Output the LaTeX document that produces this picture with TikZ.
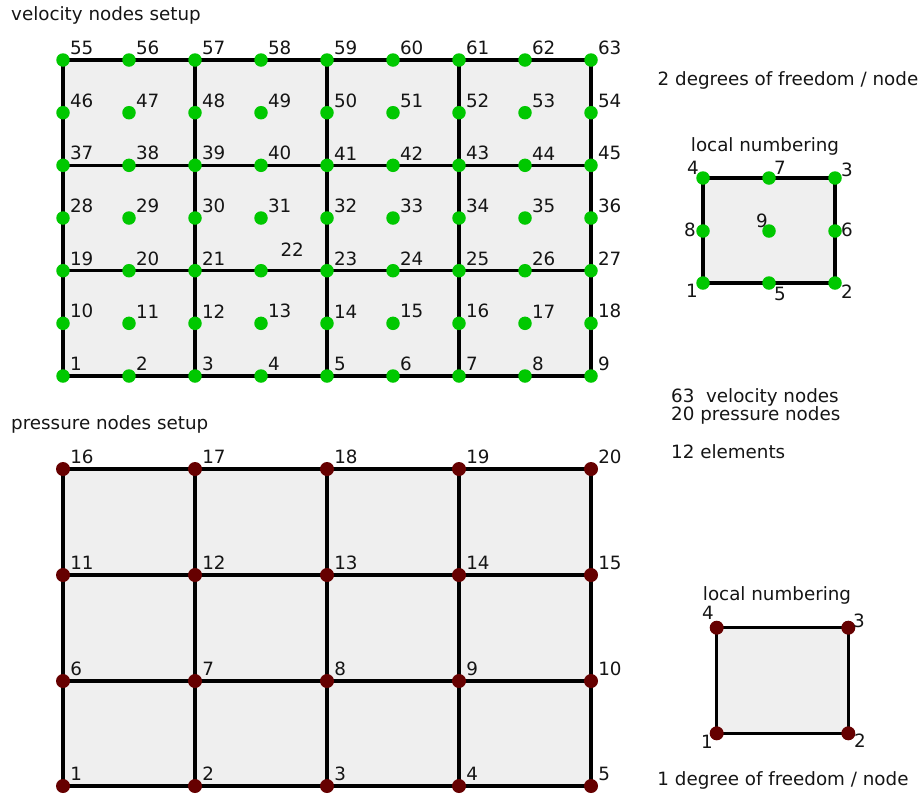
\documentclass[tikz,border=0pt]{standalone}
\usepackage{fontspec}
\setmainfont{DejaVu Sans}
\usepackage{tikz}
\usetikzlibrary{backgrounds}
\definecolor{Ink}{HTML}{151515}
\definecolor{VelDot}{HTML}{00C800}
\definecolor{PresDot}{HTML}{660000}
\definecolor{CellFill}{HTML}{EFEFEF}

\begin{document}
\begin{tikzpicture}[x=1pt,y=-1pt,
  font=\fontsize{18.3}{21}\selectfont,text=Ink,
  vdot/.style={circle,fill=VelDot,minimum size=13.5pt,inner sep=0pt},
  pdot/.style={circle,fill=PresDot,minimum size=14pt,inner sep=0pt},
  num/.style={inner sep=0pt,label distance=2.8pt,yshift=-2pt},
  txt/.style={inner sep=0pt},
  gridline/.style={black,line width=3.3pt}]
\useasboundingbox (0,0) rectangle (921,796);
% velocity nodes
\node[txt,anchor=west] (vtitle) at (11,15) {velocity nodes setup};
\node[vdot,label={[num]45:1}] (v1) at (63,376) {};
\node[vdot,label={[num]45:2}] (v2) at (129,376) {};
\node[vdot,label={[num]45:3}] (v3) at (195,376) {};
\node[vdot,label={[num]45:4}] (v4) at (261,376) {};
\node[vdot,label={[num]45:5}] (v5) at (327,376) {};
\node[vdot,label={[num]45:6}] (v6) at (393,376) {};
\node[vdot,label={[num]45:7}] (v7) at (459,376) {};
\node[vdot,label={[num]45:8}] (v8) at (525,376) {};
\node[vdot,label={[num]45:9}] (v9) at (591,376) {};
\node[vdot,label={[num]45:10}] (v10) at (63,323.3) {};
\node[vdot,label={[num]45:11}] (v11) at (129,323.3) {};
\node[vdot,label={[num]45:12}] (v12) at (195,323.3) {};
\node[vdot,label={[num]45:13}] (v13) at (261,323.3) {};
\node[vdot,label={[num]45:14}] (v14) at (327,323.3) {};
\node[vdot,label={[num]45:15}] (v15) at (393,323.3) {};
\node[vdot,label={[num]45:16}] (v16) at (459,323.3) {};
\node[vdot,label={[num]45:17}] (v17) at (525,323.3) {};
\node[vdot,label={[num]45:18}] (v18) at (591,323.3) {};
\node[vdot,label={[num]45:19}] (v19) at (63,270.7) {};
\node[vdot,label={[num]45:20}] (v20) at (129,270.7) {};
\node[vdot,label={[num]45:21}] (v21) at (195,270.7) {};
\node[vdot,label={[num,xshift=12.5pt,yshift=9.5pt]45:22}] (v22) at (261,270.7) {};
\node[vdot,label={[num]45:23}] (v23) at (327,270.7) {};
\node[vdot,label={[num]45:24}] (v24) at (393,270.7) {};
\node[vdot,label={[num]45:25}] (v25) at (459,270.7) {};
\node[vdot,label={[num]45:26}] (v26) at (525,270.7) {};
\node[vdot,label={[num]45:27}] (v27) at (591,270.7) {};
\node[vdot,label={[num]45:28}] (v28) at (63,218) {};
\node[vdot,label={[num]45:29}] (v29) at (129,218) {};
\node[vdot,label={[num]45:30}] (v30) at (195,218) {};
\node[vdot,label={[num]45:31}] (v31) at (261,218) {};
\node[vdot,label={[num]45:32}] (v32) at (327,218) {};
\node[vdot,label={[num]45:33}] (v33) at (393,218) {};
\node[vdot,label={[num]45:34}] (v34) at (459,218) {};
\node[vdot,label={[num]45:35}] (v35) at (525,218) {};
\node[vdot,label={[num]45:36}] (v36) at (591,218) {};
\node[vdot,label={[num]45:37}] (v37) at (63,165.3) {};
\node[vdot,label={[num]45:38}] (v38) at (129,165.3) {};
\node[vdot,label={[num]45:39}] (v39) at (195,165.3) {};
\node[vdot,label={[num]45:40}] (v40) at (261,165.3) {};
\node[vdot,label={[num]45:41}] (v41) at (327,165.3) {};
\node[vdot,label={[num]45:42}] (v42) at (393,165.3) {};
\node[vdot,label={[num]45:43}] (v43) at (459,165.3) {};
\node[vdot,label={[num]45:44}] (v44) at (525,165.3) {};
\node[vdot,label={[num]45:45}] (v45) at (591,165.3) {};
\node[vdot,label={[num]45:46}] (v46) at (63,112.7) {};
\node[vdot,label={[num]45:47}] (v47) at (129,112.7) {};
\node[vdot,label={[num]45:48}] (v48) at (195,112.7) {};
\node[vdot,label={[num]45:49}] (v49) at (261,112.7) {};
\node[vdot,label={[num]45:50}] (v50) at (327,112.7) {};
\node[vdot,label={[num]45:51}] (v51) at (393,112.7) {};
\node[vdot,label={[num]45:52}] (v52) at (459,112.7) {};
\node[vdot,label={[num]45:53}] (v53) at (525,112.7) {};
\node[vdot,label={[num]45:54}] (v54) at (591,112.7) {};
\node[vdot,label={[num]45:55}] (v55) at (63,60) {};
\node[vdot,label={[num]45:56}] (v56) at (129,60) {};
\node[vdot,label={[num]45:57}] (v57) at (195,60) {};
\node[vdot,label={[num]45:58}] (v58) at (261,60) {};
\node[vdot,label={[num]45:59}] (v59) at (327,60) {};
\node[vdot,label={[num]45:60}] (v60) at (393,60) {};
\node[vdot,label={[num]45:61}] (v61) at (459,60) {};
\node[vdot,label={[num]45:62}] (v62) at (525,60) {};
\node[vdot,label={[num]45:63}] (v63) at (591,60) {};
% pressure nodes
\node[txt,anchor=west] (ptitle) at (11,424) {pressure nodes setup};
\node[pdot,label={[num]45:1}] (p1) at (63,786) {};
\node[pdot,label={[num]45:2}] (p2) at (195,786) {};
\node[pdot,label={[num]45:3}] (p3) at (327,786) {};
\node[pdot,label={[num]45:4}] (p4) at (459,786) {};
\node[pdot,label={[num]45:5}] (p5) at (591,786) {};
\node[pdot,label={[num]45:6}] (p6) at (63,681) {};
\node[pdot,label={[num]45:7}] (p7) at (195,681) {};
\node[pdot,label={[num]45:8}] (p8) at (327,681) {};
\node[pdot,label={[num]45:9}] (p9) at (459,681) {};
\node[pdot,label={[num]45:10}] (p10) at (591,681) {};
\node[pdot,label={[num]45:11}] (p11) at (63,575) {};
\node[pdot,label={[num]45:12}] (p12) at (195,575) {};
\node[pdot,label={[num]45:13}] (p13) at (327,575) {};
\node[pdot,label={[num]45:14}] (p14) at (459,575) {};
\node[pdot,label={[num]45:15}] (p15) at (591,575) {};
\node[pdot,label={[num]45:16}] (p16) at (63,469) {};
\node[pdot,label={[num]45:17}] (p17) at (195,469) {};
\node[pdot,label={[num]45:18}] (p18) at (327,469) {};
\node[pdot,label={[num]45:19}] (p19) at (459,469) {};
\node[pdot,label={[num]45:20}] (p20) at (591,469) {};
% local velocity element
\node[txt] (dofv) at (788,80) {2 degrees of freedom / node};
\node[txt] (locv) at (765,146) {local numbering};
\node[vdot] (lv1) at (703,283) {};
\node[vdot] (lv2) at (835,283) {};
\node[vdot] (lv3) at (835,178) {};
\node[vdot] (lv4) at (703,178) {};
\node[vdot] (lv5) at (769,283) {};
\node[vdot] (lv6) at (835,231) {};
\node[vdot] (lv7) at (769,178) {};
\node[vdot] (lv8) at (703,231) {};
\node[vdot] (lv9) at (769,231) {};
\node[txt] (nv1) at (692,291) {1};
\node[txt] (nv2) at (847,292) {2};
\node[txt] (nv3) at (847,170) {3};
\node[txt] (nv4) at (693,168) {4};
\node[txt] (nv5) at (780,294) {5};
\node[txt] (nv6) at (847,230) {6};
\node[txt] (nv7) at (780,168) {7};
\node[txt] (nv8) at (690,230) {8};
\node[txt] (nv9) at (762,221) {9};
% counts
\node[txt,anchor=west] (cntv) at (671,397) {63\ \ velocity nodes};
\node[txt,anchor=west] (cntp) at (671,415) {20 pressure nodes};
\node[txt,anchor=west] (cnte) at (671,452) {12 elements};
% local pressure element
\node[txt] (locp) at (777,595) {local numbering};
\node[pdot] (lp1) at (716.7,733.3) {};
\node[pdot] (lp2) at (848.3,733.3) {};
\node[pdot] (lp3) at (848.3,627.7) {};
\node[pdot] (lp4) at (716.7,627.7) {};
\node[txt] (np1) at (707,742) {1};
\node[txt] (np2) at (860,741) {2};
\node[txt] (np3) at (859,621) {3};
\node[txt] (np4) at (708,613) {4};
\node[txt] (dofp) at (783,780) {1 degree of freedom / node};
\begin{scope}[on background layer]
\fill[CellFill] (v1.center) rectangle (v63.center);
\fill[CellFill] (p1.center) rectangle (p20.center);
\fill[CellFill] (lv1.center) rectangle (lv3.center);
\fill[CellFill] (lp1.center) rectangle (lp3.center);
\draw[gridline] (v1.center) -- (v9.center);
\draw[gridline] (v19.center) -- (v27.center);
\draw[gridline] (v37.center) -- (v45.center);
\draw[gridline] (v55.center) -- (v63.center);
\draw[gridline] (v1.center) -- (v55.center);
\draw[gridline] (v3.center) -- (v57.center);
\draw[gridline] (v5.center) -- (v59.center);
\draw[gridline] (v7.center) -- (v61.center);
\draw[gridline] (v9.center) -- (v63.center);
\draw[gridline] (p1.center) -- (p5.center);
\draw[gridline] (p6.center) -- (p10.center);
\draw[gridline] (p11.center) -- (p15.center);
\draw[gridline] (p16.center) -- (p20.center);
\draw[gridline] (p1.center) -- (p16.center);
\draw[gridline] (p2.center) -- (p17.center);
\draw[gridline] (p3.center) -- (p18.center);
\draw[gridline] (p4.center) -- (p19.center);
\draw[gridline] (p5.center) -- (p20.center);
\draw[gridline] (lv1.center) -- (lv2.center) -- (lv3.center) -- (lv4.center) -- cycle;
\draw[gridline] (lp1.center) -- (lp2.center) -- (lp3.center) -- (lp4.center) -- cycle;
\end{scope}
\end{tikzpicture}
\end{document}
